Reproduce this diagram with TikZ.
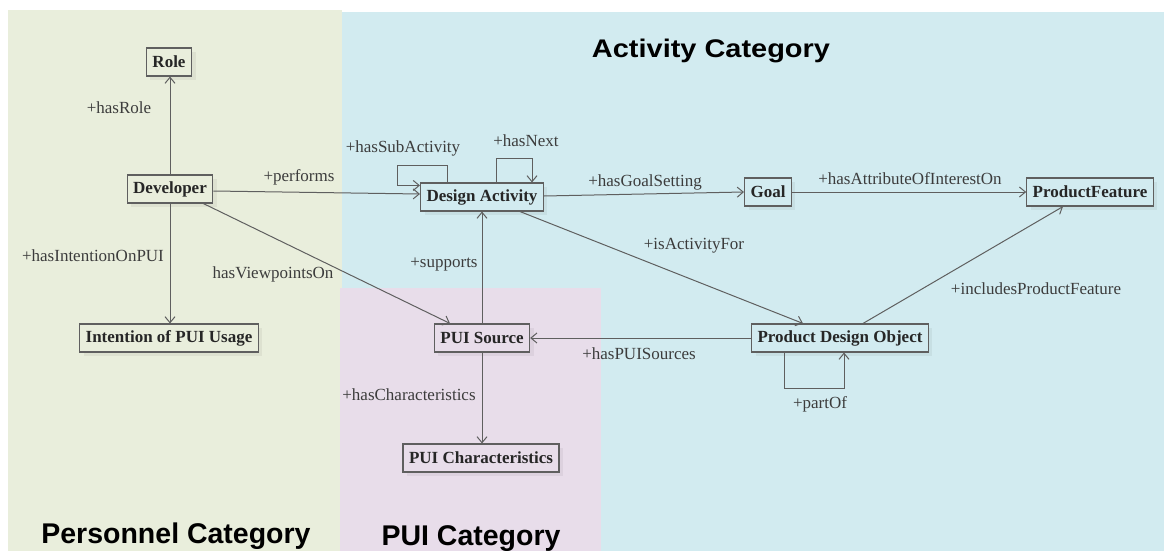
\documentclass[tikz,border=0pt]{standalone}
\usepackage{fontspec}
\usepackage{graphicx}
\setmainfont{Liberation Serif}
\setsansfont{Liberation Sans}
\usetikzlibrary{arrows.meta,shadows}

\definecolor{persbg}{RGB}{233,238,220}
\definecolor{actbg}{RGB}{210,235,240}
\definecolor{puibg}{RGB}{232,221,234}
\definecolor{edgegray}{RGB}{95,95,95}
\definecolor{labelgray}{RGB}{60,60,60}

\tikzset{
  cls/.style={draw=edgegray, line width=1.1pt, inner xsep=6pt, inner ysep=0pt,
    minimum height=28pt, text=black!85,
    font=\fontsize{17}{20}\selectfont\bfseries,
    drop shadow={shadow xshift=4pt, shadow yshift=-4pt, fill=black, opacity=0.05}},
  rel/.style={draw=edgegray, line width=1pt,
    -{Straight Barb[length=6pt,width=10pt,line width=1pt]}},
  lbl/.style={anchor=base, inner sep=0pt, text=labelgray,
    font=\fontsize{17}{20}\selectfont},
  cattitle/.style={anchor=base, inner sep=0pt, text=black,
    font=\fontsize{28.5}{32}\selectfont\sffamily\bfseries}
}

\begin{document}
\begin{tikzpicture}[x=1pt, y=-1pt]
  \useasboundingbox (0,0) rectangle (1164,551);
  \fill[white] (0,0) rectangle (1164,551);

  % category areas
  \fill[persbg] (8,10) rectangle (342,551);
  \fill[actbg] (342,12) rectangle (1164,551);
  \fill[puibg] (340,288) rectangle (601,551);

  % category titles
  \node[cattitle] (tact) at (711,57) {\fontsize{25.5}{30}\selectfont\scalebox{1.135}[1]{Activity Category}};
  \node[cattitle] (tpers) at (176,543) {Personnel Category};
  \node[cattitle] (tpui) at (471,545) {PUI Category};

  % classes
  \node[cls, fill=persbg] (role) at (169,62) {Role};
  \node[cls, fill=persbg] (dev) at (170,189) {Developer};
  \node[cls, fill=persbg] (intent) at (169,338) {Intention of PUI Usage};
  \node[cls, fill=actbg] (da) at (482,197) {Design Activity};
  \node[cls, fill=actbg] (goal) at (768,192) {Goal};
  \node[cls, fill=actbg] (pf) at (1090,192) {ProductFeature};
  \node[cls, fill=actbg] (pdo) at (840,338) {Product Design Object};
  \node[cls, fill=puibg] (puis) at (482,338) {PUI Source};
  \node[cls, fill=puibg] (puic) at (481,458) {PUI Characteristics};

  % associations
  \draw[rel] (dev.north) -- (dev.north |- role.south);
  \draw[rel] ([yshift=-2pt]dev.east) -- ([yshift=3pt]da.west);
  \draw[rel] ([xshift=-10pt]dev.south east) -- ([xshift=-32pt]puis.north);
  \draw[rel] (dev.south) -- (dev.south |- intent.north);
  \draw[rel] ([yshift=1pt]da.east) -- (goal.west);
  \draw[rel] (goal.east) -- (pf.west);
  \draw[rel] ([xshift=38pt]da.south) -- ([xshift=-37pt]pdo.north);
  \draw[rel] ([xshift=23pt]pdo.north) -- ([xshift=-27pt]pf.south);
  \draw[rel] (pdo.west) -- (puis.east);
  \draw[rel] (puis.north) -- (da.south);
  \draw[rel] (puis.south) -- (puis.south |- puic.north);

  % self associations
  \draw[rel] ([xshift=-35pt]da.north) -- ++(0,-17) -- ++(-50,0) -- ++(0,20)
    -- ([yshift=-3pt]da.north west);
  \draw[rel] ([xshift=14pt]da.north) -- ++(0,-24) -| ([xshift=50pt]da.north);
  \draw[rel] ([xshift=-56pt]pdo.south) -- ++(0,36) -| ([xshift=4pt]pdo.south);

  % role names
  \node[lbl] (lrole) at (119,113) {+hasRole};
  \node[lbl] (lperf) at (299,181) {+performs};
  \node[lbl] (lsub) at (403,152) {+hasSubActivity};
  \node[lbl] (lnext) at (526,146) {+hasNext};
  \node[lbl] (lgoal) at (645,186) {+hasGoalSetting};
  \node[lbl] (lattr) at (910,184) {+hasAttributeOfInterestOn};
  \node[lbl] (lfor) at (694,249) {+isActivityFor};
  \node[lbl] (lincl) at (1036,294) {+includesProductFeature};
  \node[lbl] (lint) at (93,261) {+hasIntentionOnPUI};
  \node[lbl] (lview) at (273,278) {hasViewpointsOn};
  \node[lbl] (lsup) at (444,267) {+supports};
  \node[lbl] (lsrc) at (639,359) {+hasPUISources};
  \node[lbl] (lchar) at (409,400) {+hasCharacteristics};
  \node[lbl] (lpart) at (820,408) {+partOf};
\end{tikzpicture}
\end{document}
